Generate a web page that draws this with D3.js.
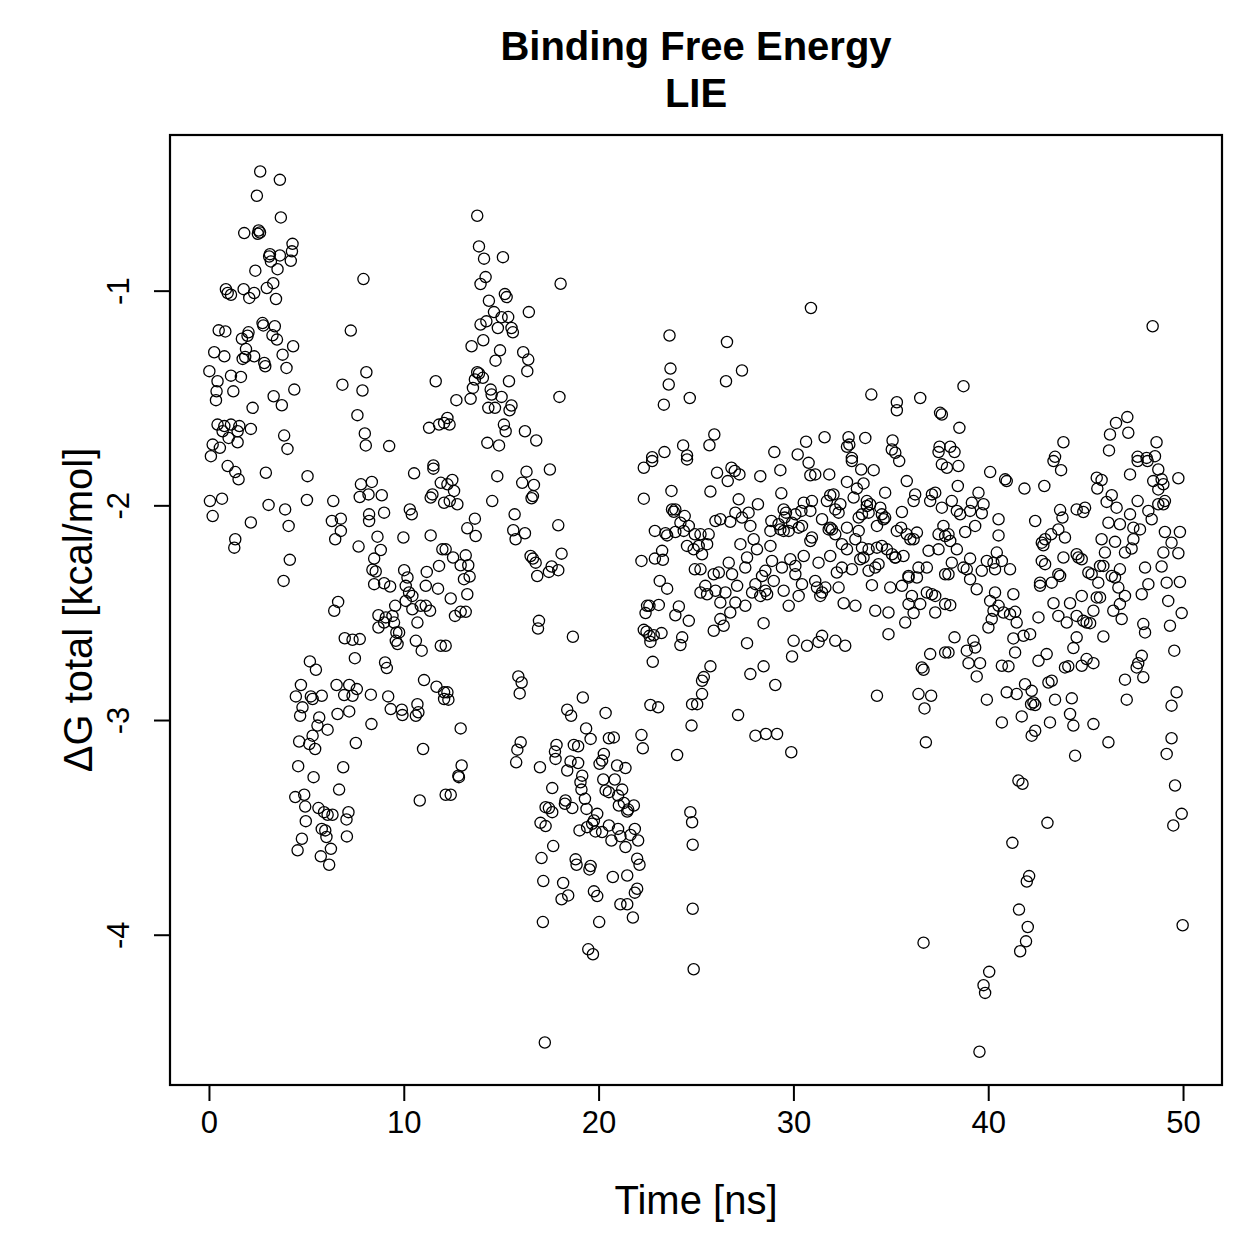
<!DOCTYPE html>
<html>
<head>
<meta charset="utf-8">
<script src="https://cdn.jsdelivr.net/npm/d3@7"></script>
<style>
  body { margin: 0; background: #fff; }
  text { font-family: "Liberation Sans", Arial, Helvetica, sans-serif; fill: #000; }
</style>
</head>
<body>
<svg id="lie-chart"></svg>
<script>
// [time (ns), dG total (kcal/mol)], grouped by time window
var early = [
  [2.63,-0.445],[3.64,-0.484],[2.46,-0.558],[3.69,-0.659],[1.81,-0.732],[2.55,-0.72],[2.62,-0.729],[2.51,-0.735],[4.29,-0.782],[4.26,-0.817],
  [3.13,-0.83],[3.09,-0.841],[3.64,-0.836],[4.2,-0.861],[3.18,-0.864],[3.52,-0.9],[2.38,-0.907],[3.3,-0.965],[2.97,-0.988],[0.87,-0.993],
  [0.96,-1.011],[1.13,-1.019],[1.78,-0.993],[2.32,-1.011],[2.07,-1.034],[3.44,-1.039],[7.93,-0.946],[7.28,-1.186],[2.75,-1.151],[2.79,-1.162],
  [3.38,-1.166],[0.5,-1.185],[0.84,-1.19],[2.03,-1.194],[1.98,-1.21],[3.26,-1.208],[3.49,-1.228],[1.69,-1.224],[4.32,-1.259],[0.27,-1.287],
  [0.79,-1.306],[1.9,-1.272],[1.73,-1.318],[1.86,-1.309],[2.32,-1.306],[2.84,-1.337],[2.89,-1.352],[3.78,-1.298],[3.98,-1.36],[0.02,-1.375],
  [0.44,-1.422],[0.39,-1.469],[0.36,-1.51],[1.13,-1.396],[1.64,-1.402],[1.25,-1.469],[2.24,-1.546],[3.32,-1.492],[3.74,-1.534],[4.38,-1.461],
  [6.85,-1.438],[8.08,-1.38],[7.88,-1.465],[7.62,-1.58],[8.0,-1.665],[8.05,-1.721],[9.25,-1.724],[11.64,-1.422],[11.3,-1.639],[11.81,-1.624],
  [12.07,-1.616],[0.44,-1.624],[0.79,-1.631],[0.7,-1.655],[1.13,-1.624],[1.56,-1.631],[1.47,-1.655],[2.15,-1.644],[0.19,-1.717],[0.56,-1.732],
  [0.1,-1.771],[1.47,-1.706],[1.01,-1.686],[3.86,-1.675],[4.03,-1.737],
  [0.96,-1.817],[1.35,-1.845],[1.52,-1.879],[2.92,-1.848],[5.06,-1.864],[0.05,-1.98],[0.67,-1.969],[0.19,-2.05],[3.06,-1.998],[3.91,-2.019],
  [5.03,-1.975],[2.15,-2.08],[4.09,-2.096],[1.35,-2.158],[1.3,-2.197],[4.15,-2.254],[3.83,-2.352],[6.38,-1.98],[6.31,-2.073],[6.77,-2.062],
  [6.77,-2.119],[6.48,-2.158],[7.8,-1.902],[8.36,-1.891],[7.74,-1.961],[8.19,-1.949],[8.87,-1.953],[8.22,-2.042],[8.22,-2.073],[8.99,-2.034],
  [7.68,-2.192],[8.65,-2.146],[8.82,-2.208],[8.48,-2.248],[8.39,-2.3],[8.56,-2.308],[8.48,-2.367],[8.99,-2.363],[9.3,-2.378],[6.63,-2.45],
  [6.43,-2.491],[10.53,-1.851],[11.52,-1.814],[11.52,-1.829],[11.9,-1.895],[11.47,-1.949],[11.38,-1.964],[12.07,-1.988],[10.31,-2.019],[10.41,-2.042],
  [9.98,-2.15],[11.38,-2.14],[11.98,-2.205],[10.02,-2.302],[10.19,-2.336],[10.1,-2.375],[11.18,-2.31],[11.13,-2.375],[11.81,-2.282],[11.76,-2.388],
  [10.27,-2.406],[10.44,-2.422],[10.1,-2.445],[9.56,-2.468],[9.42,-2.515],[9.08,-2.522],[9.5,-2.546],[9.62,-2.592],[9.76,-2.592],[9.59,-2.631],
  [9.68,-2.646],[8.7,-2.512],[8.7,-2.569],[8.99,-2.546],[10.44,-2.484],[10.7,-2.546],[10.87,-2.468],[11.13,-2.468],[11.35,-2.491],[10.62,-2.631],
  [10.92,-2.677],[11.9,-2.654],[6.97,-2.619],[7.37,-2.626],[7.74,-2.623],[7.49,-2.712],[5.18,-2.727],[5.49,-2.766],[9.04,-2.732],[9.13,-2.758],
  [11.04,-2.814],[11.68,-2.845],[12.07,-2.871],[12.07,-2.902],[4.72,-2.837],[4.46,-2.89],[5.23,-2.89],[5.79,-2.887],[5.32,-2.902],[4.8,-2.941],
  [4.68,-2.98],[5.66,-2.988],[5.57,-3.026],[6.09,-3.045],[5.32,-3.073],[4.63,-3.1],[5.15,-3.112],[5.45,-3.135],[6.55,-2.837],[7.2,-2.837],
  [7.59,-2.856],[6.94,-2.884],[7.37,-2.887],[8.31,-2.882],[9.2,-2.89],[6.6,-2.972],[7.2,-2.96],[8.34,-3.019],[7.54,-3.107],[9.33,-2.949],
  [9.9,-2.952],[9.93,-2.977],[10.7,-2.926],[10.75,-2.964],[10.62,-2.98],[10.99,-3.135],
  [4.58,-3.215],[6.89,-3.22],[5.37,-3.266],[6.68,-3.324],[4.43,-3.359],[4.89,-3.348],[4.94,-3.403],[5.62,-3.41],[5.91,-3.429],[6.09,-3.441],
  [6.34,-3.441],[7.16,-3.429],[7.06,-3.463],[4.97,-3.471],[5.79,-3.507],[5.97,-3.514],[6.03,-3.545],[7.08,-3.542],[4.77,-3.553],[4.55,-3.607],
  [5.74,-3.635],[6.26,-3.6],[6.17,-3.674],[10.82,-3.375],[12.15,-3.348]
];

var middle = [
  [13.77,-0.651],[13.86,-0.794],[14.12,-0.851],[15.09,-0.844],[14.2,-0.937],[13.94,-0.969],[18.05,-0.968],[14.37,-1.047],[15.19,-1.016],[15.28,-1.03],
  [16.42,-1.1],[14.63,-1.1],[13.94,-1.158],[14.24,-1.143],[15.02,-1.124],[15.36,-1.123],[14.83,-1.174],[15.53,-1.174],[15.6,-1.194],[14.08,-1.231],
  [13.48,-1.259],[14.94,-1.278],[14.71,-1.326],[16.13,-1.287],[16.39,-1.321],[16.34,-1.375],[13.77,-1.38],[13.86,-1.386],[13.65,-1.414],[14.06,-1.406],
  [13.55,-1.453],[15.4,-1.422],[12.7,-1.51],[13.43,-1.504],[14.46,-1.461],[14.51,-1.484],[15.02,-1.495],[14.34,-1.546],[14.68,-1.546],[15.53,-1.535],
  [15.43,-1.557],[17.99,-1.495],[12.24,-1.593],[12.35,-1.624],[15.14,-1.624],[15.23,-1.655],[16.22,-1.655],[16.8,-1.698],[14.29,-1.709],[14.89,-1.721],
  [23.64,-1.209],[23.69,-1.363],[23.6,-1.437],[23.35,-1.531],[24.68,-1.5],[24.34,-1.721],[24.54,-1.768],[23.38,-1.752],[22.75,-1.776],
  [12.49,-1.882],[12.58,-1.933],[12.24,-1.902],[12.36,-1.98],[12.75,-1.995],[14.8,-1.864],[16.3,-1.843],[16.08,-1.895],[16.68,-1.905],[16.63,-1.957],
  [16.56,-1.967],[17.5,-1.833],[14.54,-1.98],[13.65,-2.062],[13.26,-2.107],[13.69,-2.143],[15.69,-2.042],[15.62,-2.116],[15.74,-2.158],[16.22,-2.13],
  [17.93,-2.093],[12.15,-2.205],[12.53,-2.243],[13.18,-2.233],[12.92,-2.279],[13.31,-2.279],[13.09,-2.344],[13.38,-2.332],[13.26,-2.414],[12.41,-2.434],
  [12.63,-2.515],[12.92,-2.496],[13.18,-2.496],[16.51,-2.236],[16.63,-2.248],[16.77,-2.267],[16.85,-2.329],[17.45,-2.31],[17.59,-2.285],[17.93,-2.302],
  [18.1,-2.225],[16.94,-2.538],[16.89,-2.574],[18.68,-2.612],[12.15,-2.654],[15.88,-2.797],[16.05,-2.825],[15.95,-2.876],[12.24,-2.871],[12.29,-2.905],
  [12.92,-3.039],[19.19,-2.895],[18.39,-2.952],[18.59,-2.98],[20.36,-2.967],[19.36,-3.039],[19.59,-3.088],[20.53,-3.085],[20.78,-3.081],[18.73,-3.116],
  [18.95,-3.122],[17.84,-3.116],[17.76,-3.147],[16.0,-3.104],[15.83,-3.138],[20.27,-3.158],[22.2,-3.07],[22.27,-3.132],[22.66,-2.93],[23.06,-2.941],
  [24.8,-2.926],[24.77,-3.026],[24.03,-3.163],[22.32,-1.825],[22.75,-1.794],[24.54,-1.786],[22.32,-1.969],[23.74,-1.933],[23.77,-2.019],[23.86,-2.03],
  [23.94,-2.019],[24.42,-2.05],[24.2,-2.081],[24.63,-2.096],[24.37,-2.119],[24.94,-2.135],[24.54,-2.189],[24.88,-2.205],[22.89,-2.119],[23.43,-2.13],
  [23.52,-2.14],[23.94,-2.124],[22.2,-2.259],[22.89,-2.248],[23.26,-2.212],[23.3,-2.254],[23.14,-2.352],[23.52,-2.388],[24.94,-2.298],[22.49,-2.468],
  [22.61,-2.468],[23.09,-2.464],[22.41,-2.502],[24.12,-2.471],[23.94,-2.512],[24.63,-2.538],[22.32,-2.58],[22.46,-2.589],[22.61,-2.608],[22.83,-2.605],
  [23.23,-2.595],[22.66,-2.636],[24.29,-2.615],[24.2,-2.651],[22.78,-2.729],
  [12.97,-3.212],[12.8,-3.259],[12.83,-3.266],[12.41,-3.348],[15.77,-3.197],[16.99,-3.22],[17.79,-3.181],[18.39,-3.235],[18.56,-3.193],[18.95,-3.2],
  [20.05,-3.204],[20.18,-3.189],[20.95,-3.212],[21.38,-3.224],[19.16,-3.259],[19.07,-3.29],[19.12,-3.324],[19.3,-3.367],[19.38,-3.414],[20.24,-3.277],
  [20.83,-3.277],[20.36,-3.328],[20.53,-3.336],[21.21,-3.324],[21.0,-3.352],[17.62,-3.317],[18.3,-3.375],[18.27,-3.39],[18.65,-3.41],[17.28,-3.406],
  [17.45,-3.41],[17.62,-3.429],[17.02,-3.479],[17.28,-3.494],[21.04,-3.398],[21.3,-3.386],[21.52,-3.417],[21.81,-3.398],[21.47,-3.426],[19.93,-3.437],
  [19.76,-3.468],[19.67,-3.483],[19.41,-3.499],[19.02,-3.514],[19.84,-3.519],[20.18,-3.522],[20.53,-3.491],[20.66,-3.561],[21.0,-3.507],[21.12,-3.541],
  [21.64,-3.535],[21.86,-3.507],[22.03,-3.561],[21.38,-3.592],[17.67,-3.587],[17.07,-3.643],[18.82,-3.649],[18.87,-3.674],[19.59,-3.68],[19.53,-3.696],
  [21.98,-3.646],[22.1,-3.674],[17.16,-3.75],[18.18,-3.759],[18.44,-3.817],[18.1,-3.835],[19.76,-3.798],[19.93,-3.82],[20.73,-3.731],[21.47,-3.724],
  [21.98,-3.786],[21.86,-3.804],[21.12,-3.858],[21.47,-3.858],[21.76,-3.92],[17.14,-3.941],[20.03,-3.941],[19.47,-4.068],[19.71,-4.091],[17.24,-4.502],
  [24.71,-3.429],[24.8,-3.476],[24.83,-3.581],[24.83,-3.879],[24.88,-4.161]
];

var plateau = [
  [30.9,-1.081],[26.59,-1.239],[27.36,-1.372],[26.54,-1.422],[34.0,-1.484],[35.31,-1.52],[35.31,-1.557],[36.51,-1.5],[37.53,-1.569],[37.62,-1.577],
  [25.94,-1.67],[25.69,-1.72],[29.02,-1.752],[30.22,-1.763],[30.65,-1.704],[31.6,-1.683],[32.83,-1.683],[32.87,-1.717],[32.75,-1.727],[33.69,-1.686],
  [35.09,-1.698],[35.05,-1.74],[35.23,-1.755],[37.5,-1.727],[37.45,-1.752],[33.0,-1.779],
  [26.08,-1.848],[26.82,-1.825],[26.99,-1.84],[27.23,-1.856],[26.63,-1.887],[28.3,-1.864],[29.33,-1.836],[30.78,-1.802],[30.87,-1.86],[31.12,-1.856],
  [31.84,-1.856],[33.0,-1.794],[33.48,-1.833],[34.12,-1.836],[32.75,-1.891],[33.6,-1.898],[33.26,-1.922],[35.43,-1.794],[35.82,-1.887],[37.62,-1.809],
  [25.74,-1.936],[27.19,-1.972],[28.18,-1.995],[29.38,-1.944],[30.95,-1.98],[30.53,-1.988],[31.89,-1.953],[32.06,-1.949],[31.72,-1.98],[32.41,-1.995],
  [33.09,-1.964],[33.77,-1.98],[33.94,-1.995],[34.71,-1.941],[34.46,-2.011],[36.25,-1.949],[36.17,-1.98],[37.11,-1.949],[37.28,-1.941],[37.02,-1.98],
  [37.62,-2.011],
  [27.02,-2.034],[27.36,-2.057],[27.7,-2.034],[26.0,-2.073],[26.25,-2.065],[26.76,-2.077],[27.79,-2.096],[28.87,-2.073],[29.5,-2.019],[29.62,-2.034],
  [29.55,-2.057],[30.1,-2.042],[29.93,-2.081],[29.24,-2.088],[30.41,-2.026],[30.87,-2.026],[30.44,-2.096],[31.47,-2.065],[31.89,-2.104],[32.15,-2.019],
  [32.32,-2.034],[32.75,-2.104],[33.35,-2.057],[33.52,-2.042],[33.86,-2.034],[33.77,-2.003],[34.29,-2.096],[34.63,-2.065],[34.54,-2.042],[34.71,-2.057],
  [35.57,-2.031],[35.31,-2.119],[35.53,-2.104],[35.82,-2.135],[36.0,-2.158],[36.17,-2.158],[36.34,-2.127],[37.45,-2.135],[37.7,-2.096],
  [25.23,-2.135],[25.65,-2.135],[25.57,-2.181],[25.14,-2.189],[25.31,-2.228],[27.28,-2.181],[27.96,-2.158],[28.13,-2.205],[28.82,-2.189],[28.82,-2.119],
  [29.33,-2.112],[29.5,-2.119],[29.76,-2.119],[30.27,-2.104],[30.95,-2.15],[30.87,-2.166],[31.81,-2.112],[31.98,-2.112],[32.15,-2.135],[32.49,-2.181],
  [32.75,-2.205],[33.18,-2.158],[33.35,-2.119],[33.52,-2.197],[33.86,-2.205],[34.29,-2.197],[34.54,-2.189],[34.8,-2.205],[35.06,-2.228],[35.23,-2.243],
  [35.65,-2.236],[36.94,-2.212],[37.45,-2.205],[37.79,-2.143],
  [25.23,-2.298],[25.91,-2.321],[26.17,-2.313],[26.68,-2.267],[26.85,-2.321],[27.53,-2.29],[27.62,-2.243],[28.39,-2.329],[28.56,-2.305],[28.9,-2.259],
  [29.41,-2.29],[29.84,-2.251],[30.1,-2.282],[30.1,-2.321],[30.53,-2.236],[31.29,-2.267],[31.89,-2.236],[32.23,-2.313],[32.49,-2.29],[33.0,-2.298],
  [33.43,-2.251],[33.6,-2.243],[34.2,-2.29],[34.37,-2.274],[33.86,-2.305],[35.23,-2.243],[35.91,-2.336],[36.34,-2.336],[36.42,-2.29],[36.85,-2.29],
  [37.79,-2.321],
  [25.23,-2.406],[25.48,-2.375],[25.57,-2.414],[26.0,-2.398],[26.25,-2.453],[26.51,-2.406],[27.02,-2.453],[27.11,-2.375],[27.53,-2.468],[27.88,-2.406],
  [28.05,-2.367],[28.3,-2.422],[28.56,-2.398],[28.65,-2.414],[28.99,-2.352],[29.5,-2.398],[29.76,-2.468],[30.27,-2.422],[30.44,-2.367],[31.12,-2.352],
  [31.21,-2.383],[31.47,-2.406],[31.38,-2.422],[31.64,-2.383],[32.32,-2.383],[32.58,-2.456],[33.18,-2.468],[34.03,-2.372],[34.97,-2.383],[35.57,-2.375],
  [35.91,-2.329],[36.08,-2.422],[35.91,-2.46],[36.51,-2.46],[36.85,-2.406],[37.11,-2.414],[37.28,-2.422],[37.79,-2.46],
  [26.25,-2.53],[26.42,-2.561],[25.91,-2.584],[26.76,-2.499],[28.47,-2.549],[27.62,-2.642],[30.01,-2.631],[30.7,-2.654],[31.29,-2.636],[31.47,-2.608],
  [32.15,-2.631],[32.66,-2.654],[34.2,-2.491],[34.88,-2.499],[34.88,-2.6],[35.74,-2.546],[36.17,-2.502],[37.28,-2.499],[37.02,-2.693],[37.79,-2.685],
  [29.93,-2.704],[25.74,-2.75],[25.4,-2.8],[25.31,-2.817],[25.31,-2.879],[25.06,-2.926],[27.79,-2.786],[28.47,-2.75],[29.07,-2.837],
  [27.16,-2.977],[28.05,-3.073],[28.59,-3.065],[29.16,-3.065],[29.89,-3.15],[34.29,-2.887],[36.59,-2.755],[36.68,-2.766],[36.42,-2.879],[37.07,-2.887],
  [36.73,-2.946],[36.8,-3.104],[36.68,-4.037]
];

var late = [
  [48.44,-1.166],[38.73,-1.445],[38.52,-1.639],[38.05,-1.727],[38.27,-1.752],[43.86,-1.706],[43.43,-1.774],[46.56,-1.616],[47.14,-1.589],[46.25,-1.67],
  [47.19,-1.662],[46.2,-1.744],[48.64,-1.706],[47.67,-1.774],[48.13,-1.779],[48.56,-1.771],
  [38.47,-1.817],[37.88,-1.825],[40.1,-1.845],[40.87,-1.879],[40.95,-1.887],[41.86,-1.922],[42.88,-1.91],[43.35,-1.794],[43.74,-1.836],[45.57,-1.871],
  [45.82,-1.882],[45.6,-1.922],[47.28,-1.856],[47.67,-1.794],[48.18,-1.794],[48.73,-1.833],[48.47,-1.887],[48.9,-1.879],[48.99,-1.902],[48.73,-1.926],
  [49.76,-1.874],[38.44,-1.91],
  [39.5,-1.941],[38.13,-1.98],[39.16,-1.988],[39.76,-1.995],[38.39,-2.026],[38.56,-2.042],[39.67,-2.037],[39.07,-2.026],[40.53,-2.065],[42.41,-2.073],
  [43.69,-2.022],[43.81,-2.057],[44.54,-2.019],[44.97,-2.011],[44.88,-2.031],[46.34,-1.953],[46.08,-1.984],[46.59,-2.011],[47.28,-2.042],[47.67,-1.98],
  [48.22,-2.026],[48.39,-2.065],[48.73,-1.995],[49.07,-1.98],[48.99,-1.995],[46.17,-2.081],[46.76,-2.088],[47.45,-2.104],[47.79,-2.112],
  [38.82,-2.124],[39.33,-2.096],[40.53,-2.14],[37.96,-2.135],[38.05,-2.166],[38.39,-2.205],[42.75,-2.174],[42.92,-2.158],[43.23,-2.135],[43.6,-2.112],
  [43.94,-2.15],[42.83,-2.186],[45.82,-2.158],[46.51,-2.17],[47.45,-2.158],[45.99,-2.22],[47.02,-2.22],[47.36,-2.201],[49.07,-2.124],[49.84,-2.124],
  [49.41,-2.174],[48.99,-2.22],[49.76,-2.223],[39.07,-2.248],[40.44,-2.22],
  [38.13,-2.267],[37.96,-2.321],[38.73,-2.29],[38.9,-2.298],[39.07,-2.344],[39.41,-2.391],[39.67,-2.305],[39.93,-2.259],[40.35,-2.298],[40.27,-2.267],
  [40.7,-2.259],[41.12,-2.298],[42.75,-2.259],[42.92,-2.274],[43.6,-2.321],[43.69,-2.329],[43.26,-2.36],[42.66,-2.375],[42.66,-2.36],[43.86,-2.243],
  [44.54,-2.228],[44.63,-2.243],[44.8,-2.251],[45.14,-2.313],[45.31,-2.321],[45.74,-2.282],[45.91,-2.282],[45.65,-2.36],[46.34,-2.329],[46.51,-2.336],
  [46.68,-2.383],[46.76,-2.298],[48.05,-2.29],[48.22,-2.367],[47.88,-2.414],[48.9,-2.285],[49.16,-2.36],[49.84,-2.357],[49.24,-2.445],
  [38.05,-2.465],[40.1,-2.445],[40.35,-2.406],[40.27,-2.491],[40.53,-2.468],[40.78,-2.499],[41.12,-2.507],[41.38,-2.496],[41.29,-2.414],[40.18,-2.53],
  [40.01,-2.569],[41.46,-2.546],[42.58,-2.522],[43.35,-2.456],[43.6,-2.515],[44.03,-2.546],[44.2,-2.456],[44.54,-2.515],[44.8,-2.422],[44.88,-2.538],
  [45.05,-2.546],[45.23,-2.549],[45.4,-2.491],[45.57,-2.429],[45.74,-2.429],[46.42,-2.491],[46.76,-2.46],[47.02,-2.422],[46.85,-2.53],[47.96,-2.553],
  [48.05,-2.592],[49.33,-2.561],[49.93,-2.502],
  [38.27,-2.615],[37.96,-2.685],[39.24,-2.631],[39.33,-2.662],[38.9,-2.677],[38.99,-2.735],[39.58,-2.735],[39.41,-2.797],[41.29,-2.62],[41.81,-2.608],
  [42.15,-2.6],[41.38,-2.685],[40.7,-2.747],[41.04,-2.75],[42.58,-2.724],[43.0,-2.693],[44.54,-2.615],[44.37,-2.665],[45.91,-2.611],[43.94,-2.755],
  [44.11,-2.75],[44.8,-2.747],[45.05,-2.716],[45.4,-2.735],[47.88,-2.701],[47.7,-2.735],[47.62,-2.755],[47.96,-2.801],[47.02,-2.812],[49.55,-2.677],
  [41.89,-2.833],[40.95,-2.871],[41.46,-2.879],[42.23,-2.864],[42.32,-2.918],[42.41,-2.93],[42.2,-2.926],[43.09,-2.825],[43.26,-2.817],[43.43,-2.905],
  [44.29,-2.899],[44.2,-2.972],[44.37,-3.026],[45.4,-3.019],[47.11,-2.905],[49.67,-2.871],[49.41,-2.933],[49.41,-3.085],[49.16,-3.158],[39.93,-2.905],
  [40.7,-3.011],[41.72,-2.983],[42.23,-3.073],[42.41,-3.05],[43.17,-3.011],[46.17,-3.104],[44.46,-3.166],
  [41.55,-3.282],[41.76,-3.297],[49.59,-3.305],[43.04,-3.479],[49.93,-3.437],[49.5,-3.491],[41.24,-3.572],[42.1,-3.727],[41.98,-3.752],[41.58,-3.883],
  [42.03,-3.964],[41.94,-4.031],[41.64,-4.077],[49.98,-3.956],[40.05,-4.173],[39.76,-4.235],[39.84,-4.271],[39.55,-4.545]
];

var xTicks = [0, 10, 20, 30, 40, 50];
var yTicks = [-4, -3, -2, -1];

var data = early.concat(middle, plateau, late);

var W = 1259, H = 1259;
var plot = { left: 170, right: 1222, top: 135, bottom: 1085 };

var svg = d3.select('#lie-chart')
            .attr('width', W)
            .attr('height', H);

svg.append('rect').attr('width', W).attr('height', H).attr('fill', '#fff');

var x = d3.scaleLinear()
            .domain([-2, 52])
            .range([plot.left, plot.right]);
var y = d3.scaleLinear()
            .domain([-4.70, -0.275])
            .range([plot.bottom, plot.top]);

svg.append('g')
    .selectAll('circle')
    .data(data)
    .enter()
    .append('circle')
    .attr('cx', d => x(d[0]))
    .attr('cy', d => y(d[1]))
    .attr('r', 5.6)
    .attr('fill', 'none')
    .attr('stroke', '#000')
    .attr('stroke-width', 1.3);

svg.append('rect')
    .attr('x', plot.left)
    .attr('y', plot.top)
    .attr('width', plot.right - plot.left)
    .attr('height', plot.bottom - plot.top)
    .attr('fill', 'none')
    .attr('stroke', '#000')
    .attr('stroke-width', 2.2);

// plain hyphen minus like R, not the unicode minus d3.format gives
var fmt = d => String(d);

var xAxis = d3.axisBottom(x)
            .tickValues(xTicks)
            .tickSize(16)
            .tickPadding(10)
            .tickFormat(fmt);

var gx = svg.append('g')
    .attr('transform', 'translate(0,' + plot.bottom + ')')
    .call(xAxis);
gx.select('.domain').attr('d', 'M' + x(0) + ',0H' + x(50)).attr('stroke-width', 2);
gx.selectAll('.tick line').attr('stroke-width', 2);
gx.selectAll('.tick text')
    .attr('font-size', 31)
    .attr('font-family', '"Liberation Sans", Arial, sans-serif');

var yAxis = d3.axisLeft(y)
            .tickValues(yTicks)
            .tickSize(16)
            .tickFormat(fmt);

var gy = svg.append('g')
    .attr('transform', 'translate(' + plot.left + ',0)')
    .call(yAxis);
gy.select('.domain').attr('d', 'M0,' + y(-4) + 'V' + y(-1)).attr('stroke-width', 2);
gy.selectAll('.tick line').attr('stroke-width', 2);
gy.selectAll('.tick text')
    .attr('font-size', 31)
    .attr('font-family', '"Liberation Sans", Arial, sans-serif')
    .attr('x', 0)
    .attr('dy', 0)
    .attr('text-anchor', 'middle')
    .attr('transform', 'translate(-41,0) rotate(-90)');

var cx = (plot.left + plot.right) / 2;

svg.append('text')
    .attr('x', cx)
    .attr('y', 60)
    .attr('text-anchor', 'middle')
    .attr('font-size', 40)
    .attr('font-weight', 'bold')
    .text('Binding Free Energy');

svg.append('text')
    .attr('x', cx)
    .attr('y', 107)
    .attr('text-anchor', 'middle')
    .attr('font-size', 40)
    .attr('font-weight', 'bold')
    .text('LIE');

svg.append('text')
    .attr('x', cx)
    .attr('y', 1214)
    .attr('text-anchor', 'middle')
    .attr('font-size', 40)
    .text('Time [ns]');

svg.append('text')
    .attr('transform', 'translate(92,' + ((plot.top + plot.bottom) / 2) + ') rotate(-90)')
    .attr('text-anchor', 'middle')
    .attr('font-size', 40)
    .text('\u0394G total [kcal/mol]');
</script>
</body>
</html>
